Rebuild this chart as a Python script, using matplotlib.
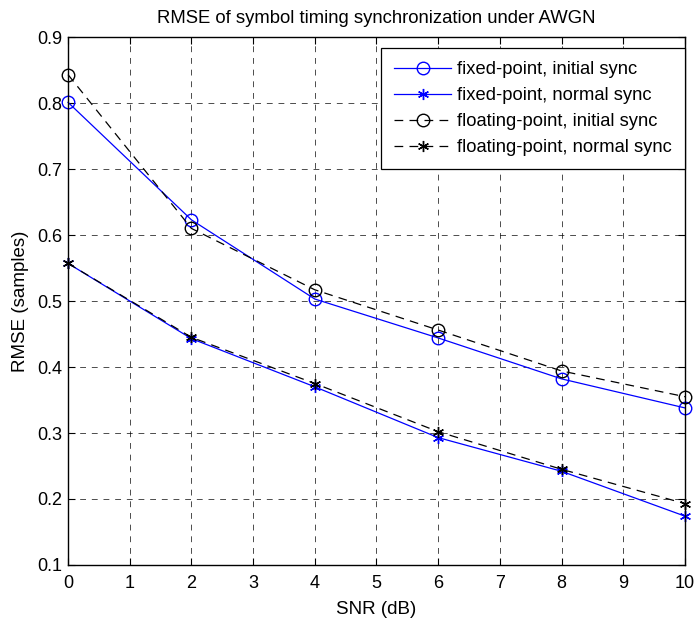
import matplotlib
matplotlib.use("Agg")
import matplotlib.pyplot as plt

snr = [0, 2, 4, 6, 8, 10]
fixed_initial = [0.801, 0.623, 0.503, 0.444, 0.382, 0.338]
fixed_normal = [0.557, 0.443, 0.370, 0.293, 0.242, 0.174]
float_initial = [0.843, 0.610, 0.517, 0.456, 0.394, 0.355]
float_normal = [0.557, 0.445, 0.375, 0.302, 0.245, 0.193]

plt.rcParams['font.family'] = ['Liberation Sans', 'DejaVu Sans']
plt.rcParams['font.size'] = 13

fig = plt.figure(figsize=(6.94, 6.23), dpi=100)
ax = fig.add_axes([0.098, 0.0931, 0.889, 0.8475])

star = (6, 2, 0)
ax.plot(snr, fixed_initial, '-', color='blue', lw=0.9, marker='o', ms=9,
        mfc='none', mec='blue', clip_on=False, label='fixed-point, initial sync')
ax.plot(snr, fixed_normal, '-', color='blue', lw=0.9, marker=star, ms=8,
        mec='blue', clip_on=False, label='fixed-point, normal sync')
ax.plot(snr, float_initial, '--', color='black', lw=0.9, marker='o', ms=9,
        mfc='none', mec='black', dashes=(7, 5), clip_on=False,
        label='floating-point, initial sync')
ax.plot(snr, float_normal, '--', color='black', lw=0.9, marker=star, ms=8,
        mec='black', dashes=(7, 5), clip_on=False,
        label='floating-point, normal sync')

ax.set_xlim(0, 10)
ax.set_ylim(0.1, 0.9)
ax.set_xticks(range(0, 11))
ax.set_yticks([0.1, 0.2, 0.3, 0.4, 0.5, 0.6, 0.7, 0.8, 0.9])
ax.set_yticklabels(['0.1', '0.2', '0.3', '0.4', '0.5', '0.6', '0.7', '0.8', '0.9'])
ax.tick_params(direction='in', top=True, right=True, length=5, labelsize=13)
ax.tick_params(axis='x', pad=7)
ax.tick_params(axis='y', pad=4)
ax.grid(True, color='black', linestyle=(0, (6, 6)), lw=0.7, alpha=0.7)
for s in ax.spines.values():
    s.set_linewidth(1.0)

ax.set_xlabel('SNR (dB)', fontsize=13.5, labelpad=7)
ax.set_ylabel('RMSE (samples)', fontsize=13.5, labelpad=6)
ax.set_title('RMSE of symbol timing synchronization under AWGN', fontsize=13.3, pad=10)

leg = ax.legend(loc='upper right', bbox_to_anchor=(1.0, 0.979), borderaxespad=0,
                fancybox=False, edgecolor='black', framealpha=1, fontsize=13.2,
                handlelength=3.1, handletextpad=0.35, borderpad=0.7,
                labelspacing=0.5)
leg.get_frame().set_linewidth(0.9)

fig.savefig('out.png', dpi=100)
